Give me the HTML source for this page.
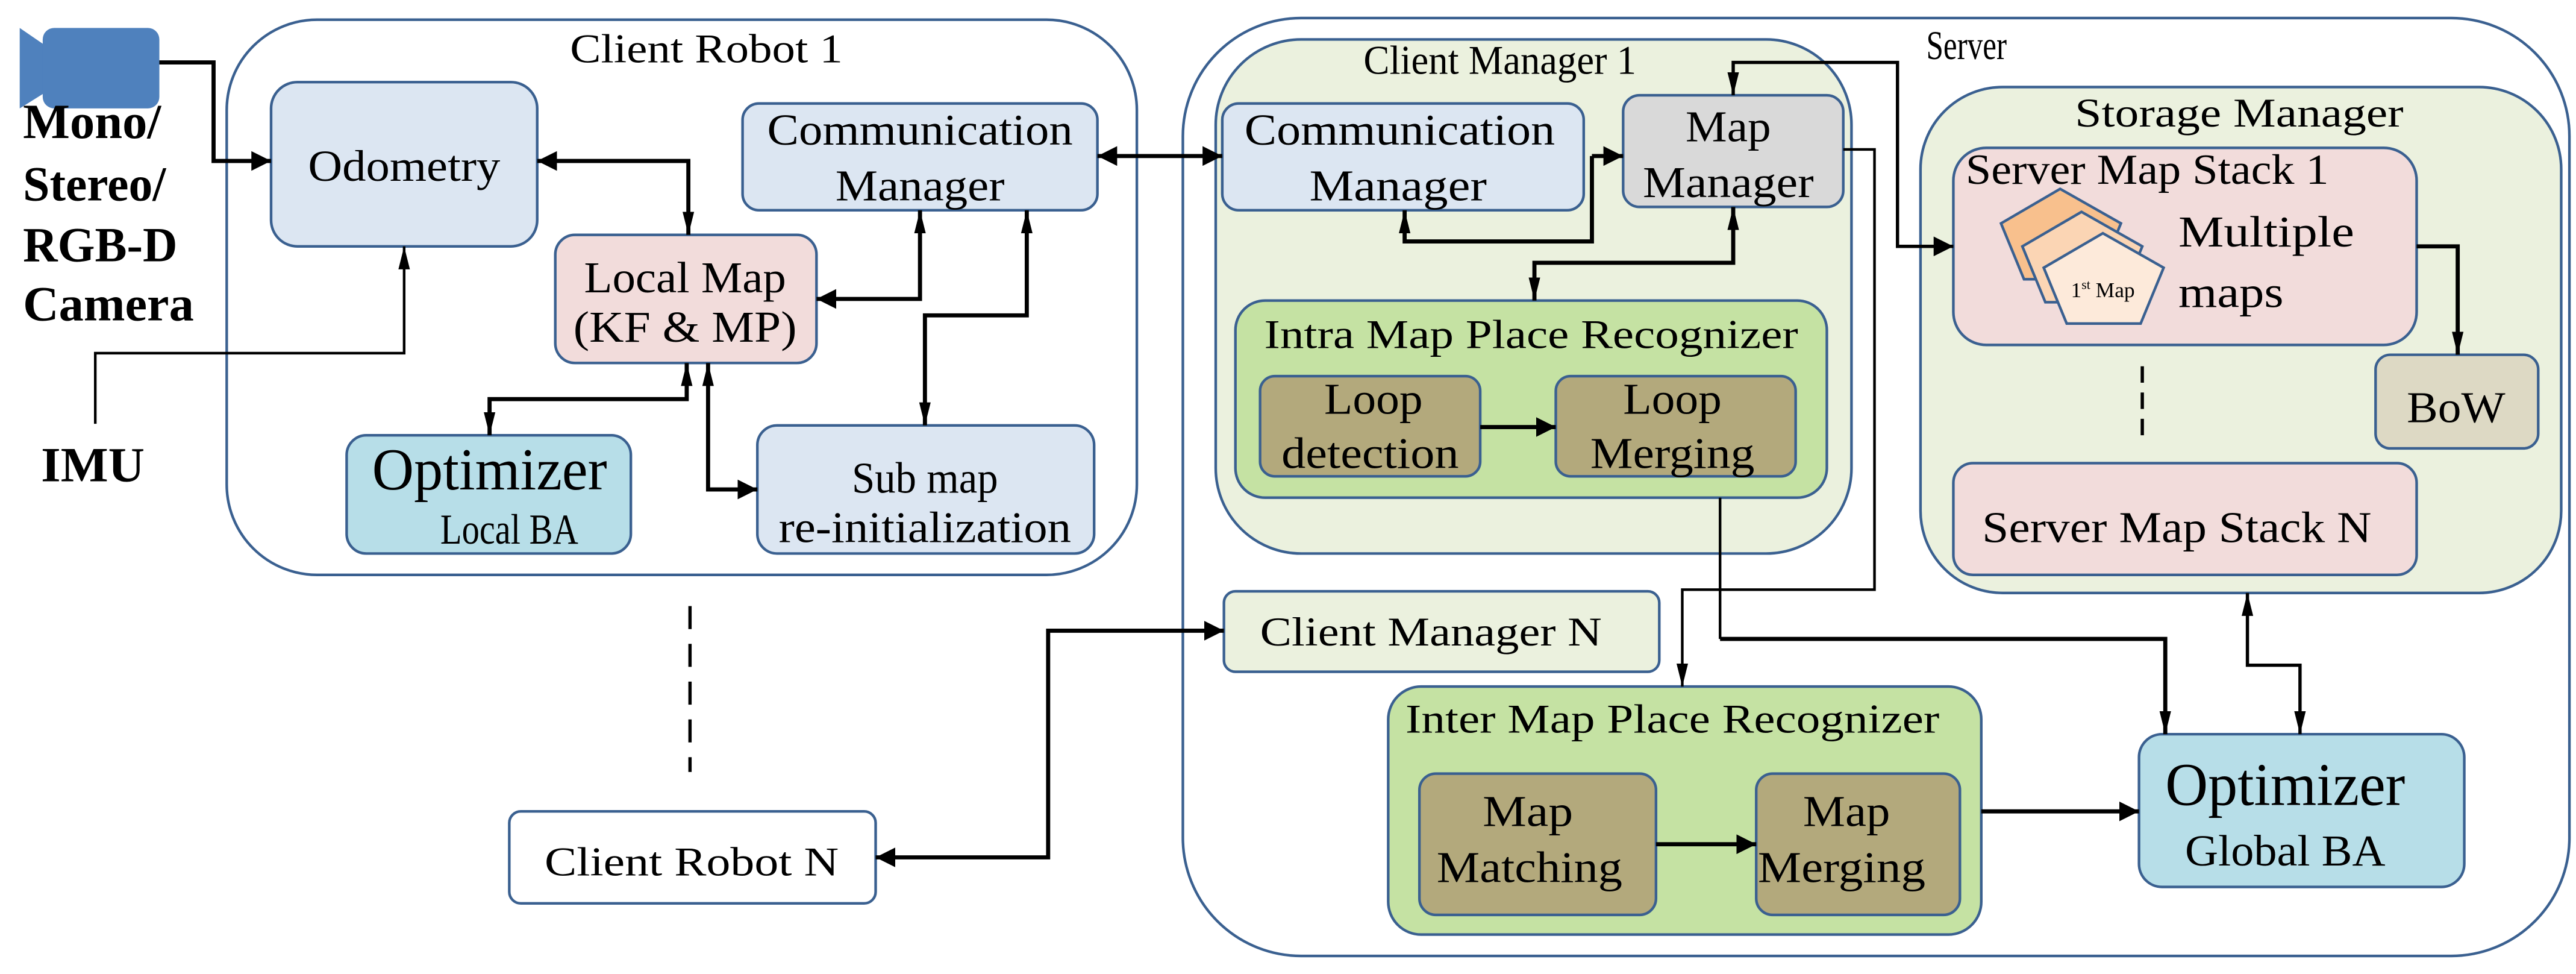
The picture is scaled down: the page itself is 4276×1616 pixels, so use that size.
<!DOCTYPE html>
<html><head><meta charset="utf-8"><style>
html,body{margin:0;padding:0;background:#fff;}
svg{display:block;}
svg text{font-family:"Liberation Serif","Times New Roman","DejaVu Serif Condensed","DejaVu Serif",serif;fill:#000;}
</style></head><body>
<svg width="4276" height="1616" viewBox="0 0 1568 593" preserveAspectRatio="none" xmlns="http://www.w3.org/2000/svg">
<defs>
<marker id="a" markerUnits="userSpaceOnUse" markerWidth="12" markerHeight="12" refX="10" refY="5" orient="auto-start-reverse" viewBox="0 0 10 10"><path d="M0,0 L10,5 L0,10 Z" fill="#000"/></marker>
<marker id="t" markerUnits="userSpaceOnUse" markerWidth="14" markerHeight="8" refX="14" refY="3.5" orient="auto-start-reverse" viewBox="0 0 14 7"><path d="M0,0 L14,3.5 L0,7 Z" fill="#000"/></marker>
</defs>
<g stroke="#3a6090" stroke-width="1.6">
<rect x="138" y="12" width="554" height="338" rx="55" fill="#fff"/>
<rect x="720" y="11" width="844" height="571" rx="72" fill="#fff"/>
<rect x="740" y="24" width="387" height="313" rx="52" fill="#ebf1de"/>
<rect x="1169" y="53" width="390" height="308" rx="50" fill="#ebf1de"/>
<rect x="165" y="50" width="162" height="100" rx="16" fill="#dce6f2"/>
<rect x="452" y="63" width="216" height="65" rx="10" fill="#dce6f2"/>
<rect x="338" y="143" width="159" height="78" rx="12" fill="#f2dcdb"/>
<rect x="211" y="265" width="173" height="72" rx="12" fill="#b7dee8"/>
<rect x="461" y="259" width="205" height="78" rx="12" fill="#dce6f2"/>
<rect x="744" y="63" width="220" height="65" rx="10" fill="#dce6f2"/>
<rect x="988" y="58" width="134" height="68" rx="10" fill="#d9d9d9"/>
<rect x="752" y="183" width="360" height="120" rx="18" fill="#c5e2a3"/>
<rect x="767" y="229" width="134" height="61" rx="9" fill="#b3a97c"/>
<rect x="947" y="229" width="146" height="61" rx="9" fill="#b3a97c"/>
<rect x="1189" y="90" width="282" height="120" rx="20" fill="#f2dcdb"/>
<rect x="1446" y="216" width="99" height="57" rx="9" fill="#ddd9c4"/>
<rect x="1189" y="282" width="282" height="68" rx="12" fill="#f2dcdb"/>
<rect x="745" y="360" width="265" height="49" rx="7" fill="#ebf1de"/>
<rect x="310" y="494" width="223" height="56" rx="7" fill="#fff"/>
<rect x="845" y="418" width="361" height="151" rx="20" fill="#c5e2a3"/>
<rect x="864" y="471" width="144" height="86" rx="10" fill="#b3a97c"/>
<rect x="1069" y="471" width="124" height="86" rx="10" fill="#b3a97c"/>
<rect x="1302" y="447" width="198" height="93" rx="14" fill="#b7dee8"/>
<polygon points="1254,115 1291,136 1277,170 1232,170 1218,136" fill="#f8c08d"/>
<polygon points="1267,129 1304,150 1290,184 1245,184 1231,150" fill="#fbd5b4"/>
<polygon points="1280,142 1317,163 1303,197 1258,197 1244,163" fill="#fdeada"/>
</g>
<polygon points="12,17 28,28 28,56 12,66" fill="#4f81bd"/>
<rect x="26" y="17" width="71" height="49" rx="7" fill="#4f81bd"/>
<g fill="none" stroke="#000">
<path d="M97,38 H130 V98 H165" stroke-width="2.5" marker-end="url(#a)"/>
<path d="M58,258 V215 H246 V150" stroke-width="1.6" marker-end="url(#t)"/>
<path d="M327,98 H419 V143" stroke-width="2.5" marker-start="url(#a)" marker-end="url(#t)"/>
<path d="M497,182 H560 V128" stroke-width="2.5" marker-start="url(#a)" marker-end="url(#t)"/>
<path d="M625,128 V192 H563 V259" stroke-width="2.5" marker-start="url(#t)" marker-end="url(#t)"/>
<path d="M418,221 V243 H298 V265" stroke-width="2.5" marker-start="url(#t)" marker-end="url(#t)"/>
<path d="M431,221 V298 H461" stroke-width="2.5" marker-start="url(#t)" marker-end="url(#a)"/>
<path d="M668,95 H744" stroke-width="2.5" marker-start="url(#a)" marker-end="url(#a)"/>
<path d="M969,95 H988" stroke-width="2.5" marker-end="url(#a)"/>
<path d="M969,95 V147 H855 V128" stroke-width="2.5" marker-end="url(#t)"/>
<path d="M1055,126 V160 H934 V183" stroke-width="2.5" marker-start="url(#t)" marker-end="url(#t)"/>
<path d="M901,260 H947" stroke-width="2.5" marker-end="url(#a)"/>
<path d="M1055,58 V38 H1155 V150 H1189" stroke-width="2" marker-start="url(#t)" marker-end="url(#a)"/>
<path d="M1122,91 H1141 V359 H1024 V418" stroke-width="1.6" marker-end="url(#t)"/>
<path d="M1047,303 V389" stroke-width="1.6"/>
<path d="M1047,389 H1318 V447" stroke-width="2.5" marker-end="url(#t)"/>
<path d="M1471,150 H1496 V216" stroke-width="2.5" marker-end="url(#t)"/>
<path d="M1368,361 V405 H1400 V447" stroke-width="2" marker-start="url(#t)" marker-end="url(#t)"/>
<path d="M533,522 H638 V384 H745" stroke-width="2.5" marker-start="url(#a)" marker-end="url(#a)"/>
<path d="M1206,494 H1302" stroke-width="2.5" marker-end="url(#a)"/>
<path d="M1008,514 H1069" stroke-width="2.5" marker-end="url(#a)"/>
<path d="M420,369 V470" stroke-width="2" stroke-dasharray="14,9"/>
<path d="M1304,223 V270" stroke-width="2" stroke-dasharray="10,6"/>
</g>
<g font-size="27" text-anchor="middle">
<text x="14" y="84" text-anchor="start" font-weight="bold" font-size="30" textLength="84" lengthAdjust="spacingAndGlyphs">Mono/</text>
<text x="14" y="122" text-anchor="start" font-weight="bold" font-size="30" textLength="87" lengthAdjust="spacingAndGlyphs">Stereo/</text>
<text x="14" y="159" text-anchor="start" font-weight="bold" font-size="30" textLength="94" lengthAdjust="spacingAndGlyphs">RGB-D</text>
<text x="14" y="195" text-anchor="start" font-weight="bold" font-size="30" textLength="104" lengthAdjust="spacingAndGlyphs">Camera</text>
<text x="25" y="293" text-anchor="start" font-weight="bold" font-size="30" textLength="63" lengthAdjust="spacingAndGlyphs">IMU</text>
<text x="430" y="38" font-size="25" textLength="166" lengthAdjust="spacingAndGlyphs">Client Robot 1</text>
<text x="246" y="110" textLength="117" lengthAdjust="spacingAndGlyphs">Odometry</text>
<text x="560" y="88" textLength="186" lengthAdjust="spacingAndGlyphs">Communication</text>
<text x="560" y="122" textLength="103" lengthAdjust="spacingAndGlyphs">Manager</text>
<text x="417" y="178" textLength="123" lengthAdjust="spacingAndGlyphs">Local Map</text>
<text x="417" y="208" textLength="136" lengthAdjust="spacingAndGlyphs">(KF &amp; MP)</text>
<text x="298" y="298" font-size="36" textLength="143" lengthAdjust="spacingAndGlyphs">Optimizer</text>
<text x="310" y="331" font-size="26" textLength="84" lengthAdjust="spacingAndGlyphs">Local BA</text>
<text x="563" y="300" textLength="89" lengthAdjust="spacingAndGlyphs">Sub map</text>
<text x="563" y="330" textLength="178" lengthAdjust="spacingAndGlyphs">re-initialization</text>
<text x="913" y="45" font-size="25" textLength="166" lengthAdjust="spacingAndGlyphs">Client Manager 1</text>
<text x="1197" y="36" font-size="25" textLength="49" lengthAdjust="spacingAndGlyphs">Server</text>
<text x="852" y="88" textLength="189" lengthAdjust="spacingAndGlyphs">Communication</text>
<text x="851" y="122" textLength="108" lengthAdjust="spacingAndGlyphs">Manager</text>
<text x="1052" y="86" textLength="52" lengthAdjust="spacingAndGlyphs">Map</text>
<text x="1052" y="120" textLength="104" lengthAdjust="spacingAndGlyphs">Manager</text>
<text x="932" y="212" font-size="25" textLength="325" lengthAdjust="spacingAndGlyphs">Intra Map Place Recognizer</text>
<text x="836" y="252" textLength="60" lengthAdjust="spacingAndGlyphs">Loop</text>
<text x="834" y="285" textLength="108" lengthAdjust="spacingAndGlyphs">detection</text>
<text x="1018" y="252" textLength="60" lengthAdjust="spacingAndGlyphs">Loop</text>
<text x="1018" y="285" textLength="100" lengthAdjust="spacingAndGlyphs">Merging</text>
<text x="1363" y="77" font-size="25" textLength="200" lengthAdjust="spacingAndGlyphs">Storage Manager</text>
<text x="1307" y="112" font-size="26" textLength="221" lengthAdjust="spacingAndGlyphs">Server Map Stack 1</text>
<text x="1326" y="150" text-anchor="start" textLength="107" lengthAdjust="spacingAndGlyphs">Multiple</text>
<text x="1326" y="187" text-anchor="start" textLength="64" lengthAdjust="spacingAndGlyphs">maps</text>
<text x="1280" y="181" font-size="13">1<tspan font-size="8" dy="-5">st</tspan><tspan dy="5"> Map</tspan></text>
<text x="1495" y="257" textLength="60" lengthAdjust="spacingAndGlyphs">BoW</text>
<text x="1325" y="330" textLength="237" lengthAdjust="spacingAndGlyphs">Server Map Stack N</text>
<text x="871" y="393" font-size="25" textLength="208" lengthAdjust="spacingAndGlyphs">Client Manager N</text>
<text x="421" y="533" font-size="25" textLength="179" lengthAdjust="spacingAndGlyphs">Client Robot N</text>
<text x="1018" y="446" font-size="25" textLength="325" lengthAdjust="spacingAndGlyphs">Inter Map Place Recognizer</text>
<text x="930" y="503" textLength="55" lengthAdjust="spacingAndGlyphs">Map</text>
<text x="931" y="537" textLength="113" lengthAdjust="spacingAndGlyphs">Matching</text>
<text x="1124" y="503" textLength="53" lengthAdjust="spacingAndGlyphs">Map</text>
<text x="1121" y="537" textLength="102" lengthAdjust="spacingAndGlyphs">Merging</text>
<text x="1391" y="490" font-size="37" textLength="146" lengthAdjust="spacingAndGlyphs">Optimizer</text>
<text x="1391" y="527" font-size="27" textLength="122" lengthAdjust="spacingAndGlyphs">Global BA</text>
</g>
</svg>
</body></html>
